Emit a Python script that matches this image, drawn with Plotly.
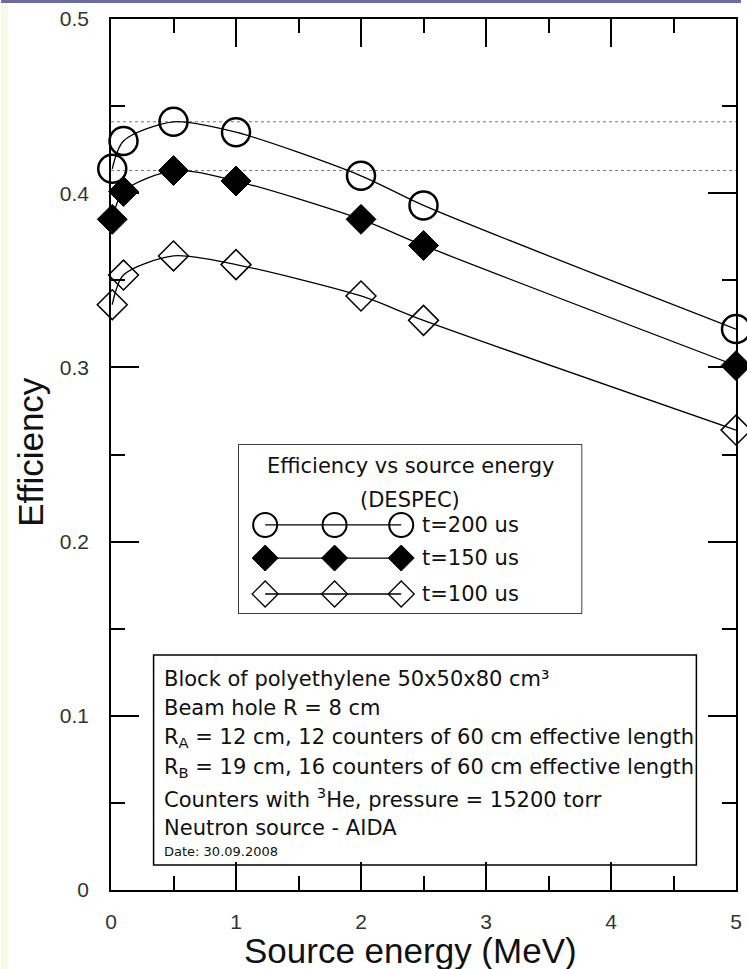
import plotly.graph_objects as go

# Source energy (MeV) of each measurement
energy = [0.01, 0.1, 0.5, 1.0, 2.0, 2.5, 5.0]

# Detection efficiency for three time windows
eff_t200 = [0.414, 0.430, 0.441, 0.435, 0.410, 0.393, 0.322]
eff_t150 = [0.385, 0.401, 0.413, 0.407, 0.385, 0.370, 0.301]
eff_t100 = [0.336, 0.353, 0.364, 0.359, 0.341, 0.327, 0.264]

series_labels = ["t=200 us", "t=150 us", "t=100 us"]
legend_title = ["Efficiency vs source energy", "(DESPEC)"]

info_lines = [
    "Block of polyethylene 50x50x80 cm\u00b3",
    "Beam hole R = 8 cm",
    "R<sub>A</sub> = 12 cm, 12 counters of 60 cm effective length",
    "R<sub>B</sub> = 19 cm, 16 counters of 60 cm effective length",
    "Counters with <sup>3</sup>He, pressure = 15200 torr",
    "Neutron source - AIDA",
]
date_line = "Date: 30.09.2008"

X_RANGE = [0, 5]
Y_RANGE = [0, 0.5]

# ---- page geometry (pixels) ----
W, H = 747, 969
L, R, T, B = 111, 5, 19, 79
PW, PH = W - L - R, H - T - B


def px(x):
    """page x pixel -> paper x"""
    return (x - L) / PW


def py(y):
    """page y pixel -> paper y"""
    return (H - B - y) / PH


TICK_FONT = dict(family="Liberation Sans, Arial, sans-serif", size=21, color="#333")
TEXT_FONT = dict(family="DejaVu Sans, sans-serif", size=21, color="#111")
TITLE_FONT = dict(family="Liberation Sans, Arial, sans-serif", size=35, color="#111")

styles = [
    dict(symbol="circle-open", size=28, color="black", line=dict(width=2.5, color="black")),
    dict(symbol="diamond", size=23, color="black", line=dict(width=1, color="black")),
    dict(symbol="diamond-open", size=23, color="black", line=dict(width=1.5, color="black")),
]
legend_styles = [
    dict(symbol="circle-open", size=24, color="black", line=dict(width=2, color="black")),
    dict(symbol="diamond", size=20, color="black", line=dict(width=1, color="black")),
    dict(symbol="diamond-open", size=20, color="black", line=dict(width=1.3, color="black")),
]

fig = go.Figure()

# dotted reference levels at the maxima of the two upper curves
for level in (max(eff_t200), max(eff_t150)):
    fig.add_trace(go.Scatter(
        x=X_RANGE, y=[level, level], mode="lines",
        line=dict(color="#777", width=1, dash="dot"),
        showlegend=False, hoverinfo="skip",
    ))

for vals, st in zip([eff_t200, eff_t150, eff_t100], styles):
    fig.add_trace(go.Scatter(
        x=energy, y=vals, mode="lines+markers",
        line=dict(color="black", width=1.3, shape="spline", smoothing=0.8),
        marker=st, cliponaxis=False, showlegend=False,
    ))

# legend box drawn on its own small axis pair
leg_x0, leg_x1, leg_y0, leg_y1 = 240, 586, 613, 445
sample_x = [0.077, 0.2795, 0.474]
row_y = [0.524, 0.327, 0.113]
for st, yy in zip(legend_styles, row_y):
    fig.add_trace(go.Scatter(
        x=sample_x, y=[yy] * 3, mode="lines+markers", xaxis="x2", yaxis="y2",
        line=dict(color="black", width=1.3), marker=st,
        cliponaxis=False, showlegend=False, hoverinfo="skip",
    ))

# empty traces so the tick-only overlay axes get their own subplots
for xa, ya in [("x3", "y"), ("x4", "y"), ("x", "y3"), ("x", "y4")]:
    fig.add_trace(go.Scatter(x=[None], y=[None], xaxis=xa, yaxis=ya,
                             showlegend=False, hoverinfo="skip"))

frame = dict(showgrid=False, zeroline=False, showline=True, linecolor="black",
             linewidth=1.5, mirror=True)


def tick_axis(rng, dtick, length, overlay, anchor):
    return dict(range=rng, tickmode="linear", tick0=0, dtick=dtick,
                ticks="inside", ticklen=length, tickwidth=1.5, tickcolor="black",
                showticklabels=False, overlaying=overlay, anchor=anchor,
                layer="above traces", fixedrange=True,
                showgrid=False, zeroline=False, showline=True, linecolor="black",
                linewidth=1.5, mirror="ticks")


fig.update_layout(
    width=W, height=H,
    margin=dict(l=L, r=R, t=T, b=B),
    paper_bgcolor="white", plot_bgcolor="white",
    showlegend=False,
    # labelled axes; transparent outside ticks set the label gap
    xaxis=dict(range=X_RANGE, tickmode="linear", tick0=0, dtick=1,
               ticks="outside", ticklen=12, tickcolor="rgba(0,0,0,0)",
               tickfont=TICK_FONT, **frame),
    yaxis=dict(range=Y_RANGE, tickmode="linear", tick0=0, dtick=0.1,
               ticks="outside", ticklen=16, tickcolor="rgba(0,0,0,0)",
               tickfont=TICK_FONT, **frame),
    # major and minor inside ticks on all four sides
    xaxis3=tick_axis(X_RANGE, 1, 28, "x", "y"),
    xaxis4=tick_axis(X_RANGE, 0.5, 14, "x", "y"),
    yaxis3=tick_axis(Y_RANGE, 0.1, 28, "y", "x"),
    yaxis4=tick_axis(Y_RANGE, 0.05, 14, "y", "x"),
    xaxis2=dict(domain=[px(leg_x0), px(leg_x1)], range=[0, 1], anchor="y2",
                visible=False, fixedrange=True),
    yaxis2=dict(domain=[py(leg_y0), py(leg_y1)], range=[0, 1], anchor="x2",
                visible=False, fixedrange=True),
)

shapes = [
    # window frame strips
    dict(type="rect", xref="paper", yref="paper", x0=px(0), x1=px(W), y0=py(0), y1=py(3),
         fillcolor="#6a6ba3", line=dict(width=0), layer="below"),
    dict(type="rect", xref="paper", yref="paper", x0=px(0), x1=px(7), y0=py(3), y1=py(H),
         fillcolor="#f8fce6", line=dict(width=0), layer="below"),
    # legend frame
    dict(type="rect", xref="paper", yref="paper", x0=px(leg_x0), x1=px(leg_x1),
         y0=py(leg_y0), y1=py(leg_y1), line=dict(color="black", width=1.5),
         fillcolor="white", layer="below"),
    # info frame
    dict(type="rect", xref="paper", yref="paper", x0=px(154), x1=px(702),
         y0=py(865), y1=py(655), line=dict(color="black", width=1.5),
         fillcolor="white", layer="below"),
]
fig.update_layout(shapes=shapes)

ann = []
# axis titles
ann.append(dict(text="Efficiency", xref="paper", yref="paper", x=px(29), y=py(452),
                textangle=-90, showarrow=False, font=TITLE_FONT,
                xanchor="center", yanchor="middle"))
ann.append(dict(text="Source energy (MeV)", xref="paper", yref="paper", x=px(413), y=py(950),
                showarrow=False, font=TITLE_FONT, xanchor="center", yanchor="middle"))
# legend title and labels
for txt, yy in zip(legend_title, [466, 500]):
    ann.append(dict(text=txt, xref="paper", yref="paper", x=px(413), y=py(yy),
                    showarrow=False, font=TEXT_FONT, xanchor="center", yanchor="middle"))
for txt, yy in zip(series_labels, row_y):
    ann.append(dict(text=txt, xref="paper", yref="y2", x=px(423), y=yy,
                    showarrow=False, font=TEXT_FONT, xanchor="left", yanchor="middle"))
# info block
for txt, yy in zip(info_lines, [679, 708, 738, 768, 798, 828]):
    ann.append(dict(text=txt, xref="paper", yref="paper", x=px(162), y=py(yy),
                    showarrow=False, font=TEXT_FONT, xanchor="left", yanchor="middle"))
ann.append(dict(text=date_line, xref="paper", yref="paper", x=px(162), y=py(851),
                showarrow=False, font=dict(family="DejaVu Sans, sans-serif", size=13, color="#111"),
                xanchor="left", yanchor="middle"))
fig.update_layout(annotations=ann)

fig.write_html("out.html")
